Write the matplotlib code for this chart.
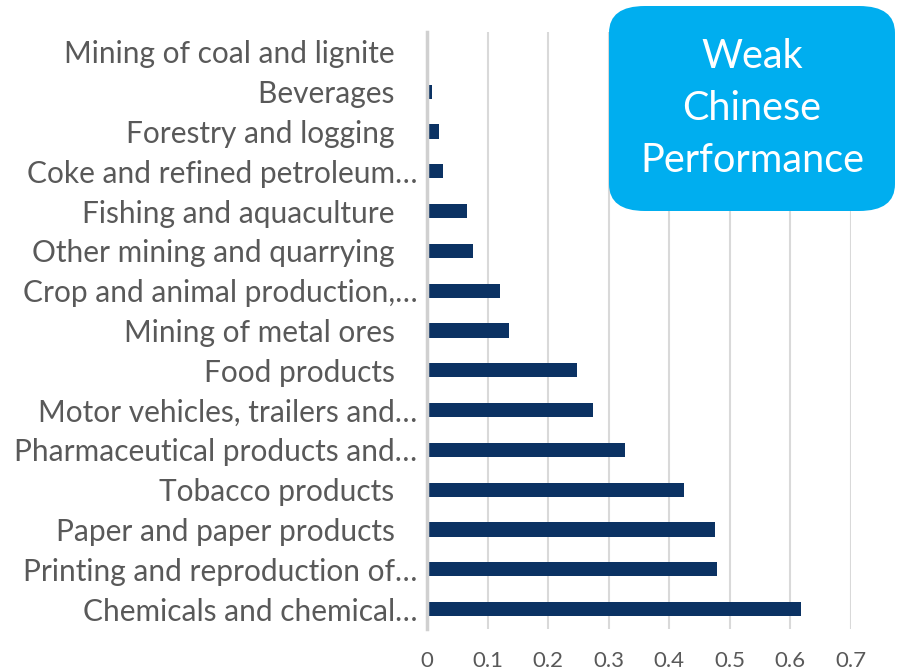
import numpy as np
import matplotlib
matplotlib.use("Agg")
import matplotlib.pyplot as plt
from matplotlib.patches import FancyBboxPatch

# sectors, top to bottom as shown
sectors = [
    "Mining of coal and lignite   ",
    "Beverages   ",
    "Forestry and logging   ",
    "Coke and refined petroleum…",
    "Fishing and aquaculture   ",
    "Other mining and quarrying   ",
    "Crop and animal production,…",
    "Mining of metal ores   ",
    "Food products   ",
    "Motor vehicles, trailers and…",
    "Pharmaceutical products and…",
    "Tobacco products   ",
    "Paper and paper products   ",
    "Printing and reproduction of…",
    "Chemicals and chemical…",
]
values = [0.0, 0.009, 0.019, 0.027, 0.066, 0.076, 0.121, 0.136, 0.248,
          0.274, 0.327, 0.425, 0.475, 0.478, 0.618]
xticks = [0, 0.1, 0.2, 0.3, 0.4, 0.5, 0.6, 0.7]

plt.rcParams['font.family'] = ['Lato', 'DejaVu Sans']

fig = plt.figure(figsize=(8.98, 6.71), dpi=100)
W, H = 898, 671
ax = fig.add_axes([427 / W, 1 - 629 / H, (851 - 427) / W, (629 - 32) / H])

y = np.arange(len(sectors))
ax.barh(y, values, height=0.36, color="#0B3263", zorder=3)

ax.set_xlim(0, 0.7)
ax.set_ylim(len(sectors) - 0.5, -0.5)
ax.set_xticks(xticks)
ax.set_xticklabels([f"{t:g}" for t in xticks], color="#595959", fontsize=16)
ax.set_yticks(y)
ax.set_yticklabels(sectors, color="#595959", fontsize=21.5)
ax.tick_params(axis="y", length=0, pad=7)
ax.tick_params(axis="x", length=0, pad=16)

ax.grid(axis="x", color="#D9D9D9", linewidth=1.5, zorder=0)
for side in ["top", "right", "bottom"]:
    ax.spines[side].set_visible(False)
ax.spines["left"].set_color("#D0D0D0")
ax.spines["left"].set_linewidth(2.5)
ax.spines["left"].set_zorder(4)

# callout box
box = FancyBboxPatch((609 / W, 1 - 211 / H), (895 - 609) / W, (211 - 6) / H,
                     boxstyle="round,pad=0,rounding_size=0.04",
                     transform=fig.transFigure, facecolor="#00AEEF",
                     edgecolor="none", zorder=5)
fig.patches.append(box)
fig.text(752 / W, 1 - 109 / H, "Weak\nChinese\nPerformance", color="white",
         fontsize=28.5, ha="center", va="center", linespacing=1.5, zorder=6)

fig.savefig("out.png", dpi=100)
